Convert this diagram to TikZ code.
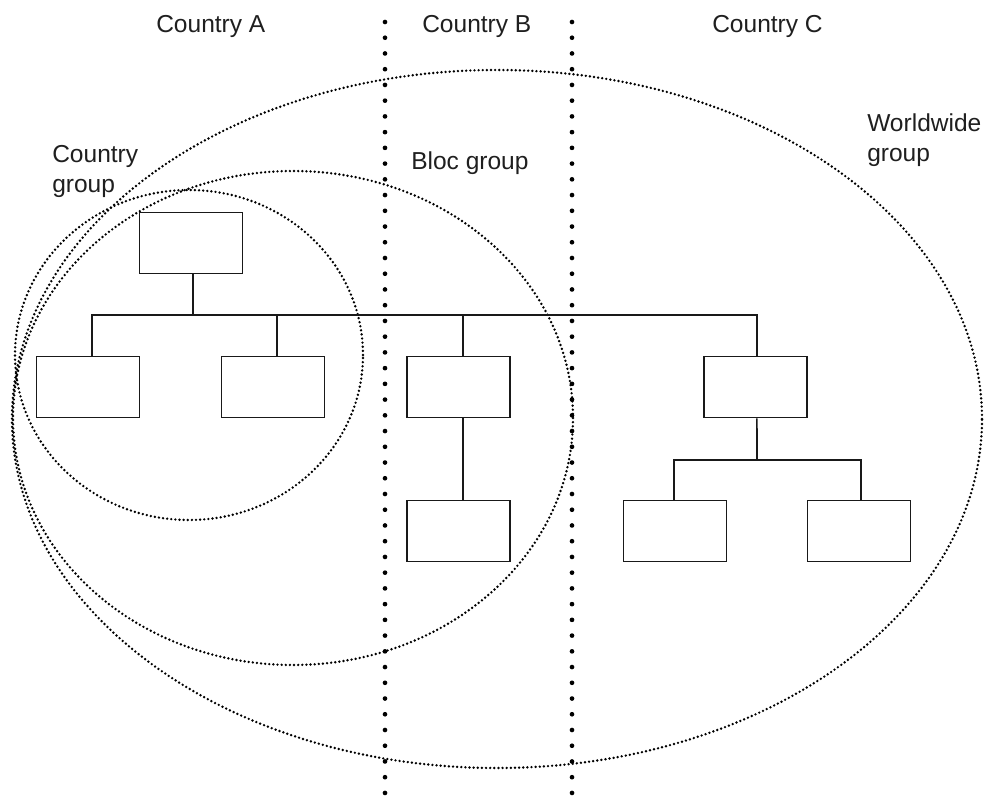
\documentclass[tikz,border=0pt]{standalone}
\usepackage{fontspec}
\setmainfont{Liberation Sans}
\usetikzlibrary{shapes.geometric}

\begin{document}
\begin{tikzpicture}[x=0.75pt, y=-0.75pt,
    orgbox/.style={draw=black!90, line width=1.15pt, fill=none,
      minimum width=77.25pt, minimum height=45.75pt, inner sep=0pt},
    link/.style={draw=black!90, line width=1.15pt},
    groupring/.style={ellipse, draw=black, line width=2pt, line cap=round,
      dash pattern=on 0pt off 3.1pt, inner sep=0pt},
    divider/.style={draw=black, line width=3.5pt, line cap=round,
      dash pattern=on 0pt off 11.8pt},
    label/.style={inner sep=0pt, text=black!88,
      font=\fontsize{18.4pt}{22.5pt}\selectfont}]

  \useasboundingbox (0,0) rectangle (989,805);

  % country dividers
  \coordinate (abtop) at (385,22);
  \coordinate (abbot) at (385,805);
  \coordinate (bctop) at (572,22);
  \coordinate (bcbot) at (572,805);
  \draw[divider] (abtop) -- (abbot);
  \draw[divider] (bctop) -- (bcbot);

  % column headings
  \node[label, anchor=base west] (hA) at (156,33) {Country A};
  \node[label, anchor=base west] (hB) at (422,33) {Country B};
  \node[label, anchor=base west] (hC) at (712,33) {Country C};

  % group outlines
  \node[groupring, minimum width=261pt, minimum height=247.5pt] (cgrp) at (189,355) {};
  \node[groupring, minimum width=420pt, minimum height=370.5pt] (bgrp) at (293,418) {};
  \node[groupring, minimum width=727.5pt, minimum height=523.5pt] (wgrp) at (497,419) {};

  % group captions (base anchor sits on the last line)
  \node[label, anchor=base west, align=left] (cgrplbl) at (52,193) {Country\\group};
  \node[label, anchor=base west] (bgrplbl) at (411,170) {Bloc group};
  \node[label, anchor=base west, align=left] (wgrplbl) at (867,162) {Worldwide\\group};

  % organisation boxes
  \node[orgbox] (top) at (191,243) {};
  \node[orgbox] (a1) at (88,387) {};
  \node[orgbox] (a2) at (273,387) {};
  \node[orgbox] (b1) at (458.5,387) {};
  \node[orgbox] (b2) at (458.5,531) {};
  \node[orgbox] (c1) at (755.5,387) {};
  \node[orgbox] (c2) at (675,531) {};
  \node[orgbox] (c3) at (859,531) {};

  % reporting lines
  \coordinate (bus) at (193,315);
  \coordinate (cbus) at (757,460);
  \draw[link] ([xshift=1.5pt]top.south) -- (bus);
  \draw[link] ([xshift=3pt]a1.north) |- (bus);
  \draw[link] (bus) -| ([xshift=1.1pt]c1.north);
  \draw[link] ([xshift=3pt]a2.north) -- ([xshift=3pt]a2.north |- bus);
  \draw[link] ([xshift=3.4pt]b1.north) -- ([xshift=3.4pt]b1.north |- bus);
  \draw[link] ([xshift=3.4pt]b1.south) -- ([xshift=3.4pt]b2.north);
  \draw[link] ([xshift=1.1pt]c1.south) -- (cbus);
  \draw[link] ([xshift=-0.75pt]c2.north) |- (cbus);
  \draw[link] (cbus) -| ([xshift=1.5pt]c3.north);
\end{tikzpicture}
\end{document}
